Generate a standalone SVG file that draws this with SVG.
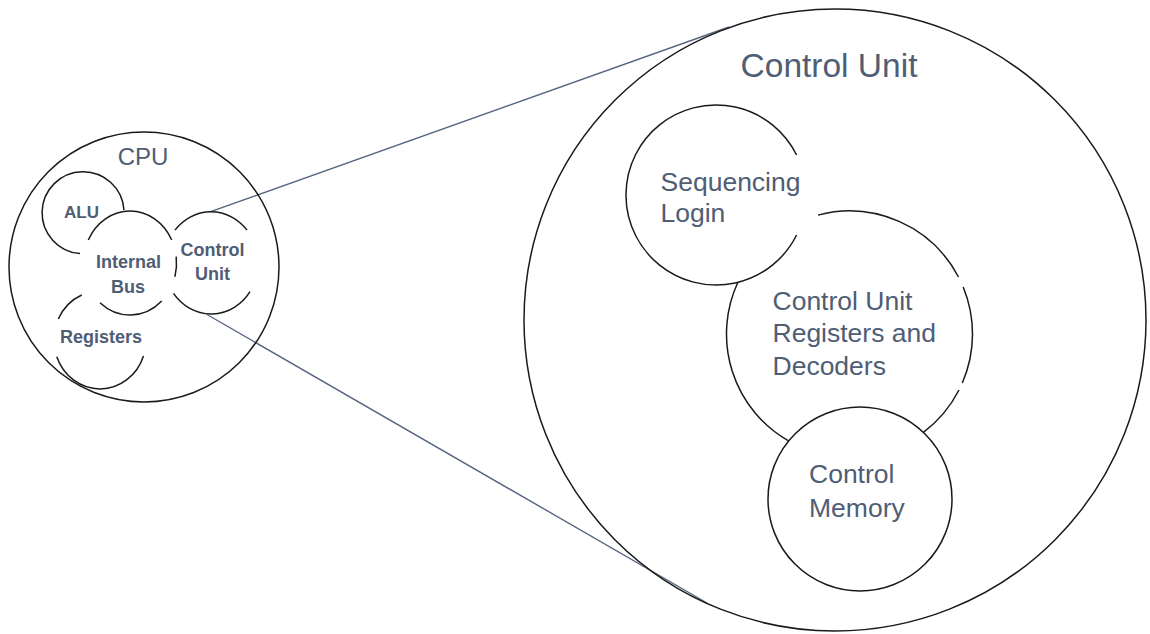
<svg xmlns="http://www.w3.org/2000/svg" width="1150" height="634" viewBox="0 0 1150 634">
<style>
.ln{fill:none;stroke:#1a1a1a;stroke-width:1.5}
.cn{fill:none;stroke:#56667f;stroke-width:1.4}
.t{font-family:"Liberation Sans",Arial,sans-serif;fill:#4f5d75}
.s{font-size:18px;font-weight:bold;text-anchor:middle}
.m{font-size:26.5px}
</style>
<rect width="1150" height="634" fill="#ffffff"/>
<g id="connectors">
<line class="cn" x1="210" y1="211.8" x2="729" y2="27"/>
<line class="cn" x1="207" y1="314.5" x2="707" y2="603"/>
</g>
<g id="cpu">
<circle class="ln" cx="144" cy="267" r="135"/>
<text class="t" x="143" y="165" font-size="24" text-anchor="middle">CPU</text>
</g>
<g id="alu">
<path class="ln" d="M124,210 A41,41 0 1,0 80,253.6"/>
<text class="t s" x="81.5" y="218.3" style="font-size:17px">ALU</text>
</g>
<g id="internal-bus">
<path class="ln" d="M88.3,240 A46.5,52 0 0,1 171.7,240"/>
<path class="ln" d="M176.2,256.7 A46.5,52 0 0,1 174.9,276.7"/>
<path class="ln" d="M161.7,301 A46.5,52 0 0,1 100,302.7"/>
<text class="t s" x="128.5" y="268.3">Internal</text>
<text class="t s" x="128" y="293.3">Bus</text>
</g>
<g id="control-unit-small">
<path class="ln" d="M175,230.1 A47,51.2 0 0,1 247,230.1"/>
<path class="ln" d="M250,291.6 A47,51.2 0 0,1 173.5,293.4"/>
<text class="t s" x="212.5" y="256">Control</text>
<text class="t s" x="212.5" y="280">Unit</text>
</g>
<g id="registers">
<path class="ln" d="M58.3,319 A46,49 0 0,1 81.7,295"/>
<path class="ln" d="M56.8,356.7 A46,49 0 0,0 143.5,355.9"/>
<text class="t s" x="101" y="343.3">Registers</text>
</g>
<g id="control-unit">
<circle class="ln" cx="835" cy="320" r="311"/>
<text class="t" x="829" y="77.3" font-size="33.5" text-anchor="middle">Control Unit</text>
</g>
<g id="sequencing-login">
<path class="ln" d="M796.6,155 A90,90 0 1,0 796.6,235"/>
<text class="t m" x="660.5" y="190.7">Sequencing</text>
<text class="t m" x="660.5" y="221.7">Login</text>
</g>
<g id="cu-registers">
<path class="ln" d="M818,215.1 A123,123 0 0,1 958.5,277"/>
<path class="ln" d="M963.2,287 A123,123 0 0,1 962.3,383"/>
<path class="ln" d="M959,390 A123,123 0 0,1 923.4,432.3"/>
<path class="ln" d="M737.9,282.3 A123,123 0 0,0 788.6,440.9"/>
<text class="t m" x="772.5" y="309.5">Control Unit</text>
<text class="t m" x="772.5" y="342">Registers and</text>
<text class="t m" x="772.5" y="374.5">Decoders</text>
</g>
<g id="control-memory">
<circle class="ln" cx="860" cy="499" r="92"/>
<text class="t m" x="809" y="483.3">Control</text>
<text class="t m" x="809" y="516.7">Memory</text>
</g>
</svg>
